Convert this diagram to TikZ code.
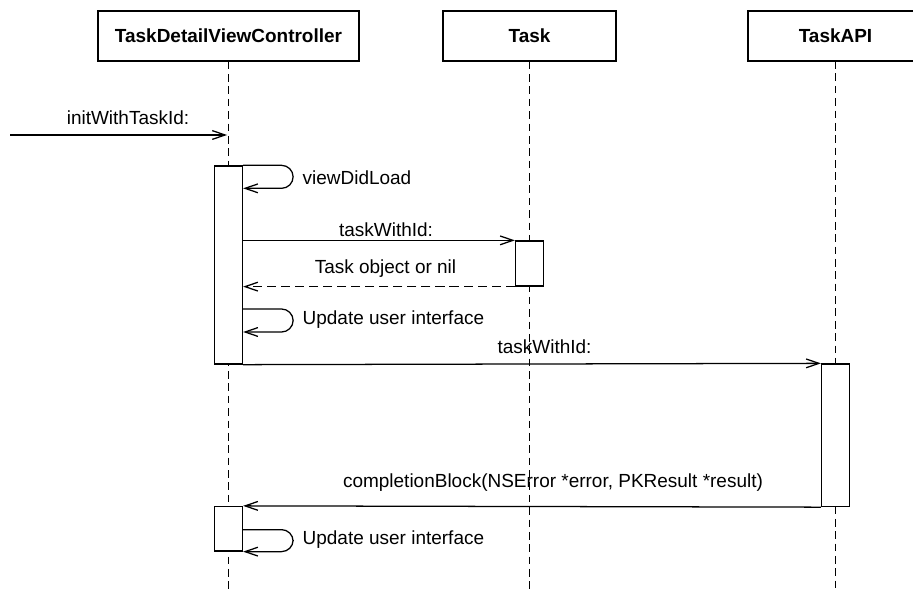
\documentclass[tikz,border=0pt]{standalone}
\usepackage{fontspec}
\setmainfont{Liberation Sans}
\usetikzlibrary{arrows.meta}

\begin{document}
\begin{tikzpicture}[x=0.025cm,y=-0.025cm,line width=0.9pt,
  >={Straight Barb[length=0.32cm,width=0.22cm]},
  every node/.style={inner sep=0pt,font=\fontsize{13.5}{16}\selectfont},
  head/.style={draw,minimum height=1.25cm,font=\fontsize{13.5}{16}\selectfont\bfseries},
  act/.style={draw,fill=white,minimum width=0.7cm},
  lifeline/.style={dash pattern=on 5.5pt off 3.3pt},
  msg/.style={->},
  reply/.style={->,dash pattern=on 6.5pt off 3.5pt},
  self/.style={->,rounded corners=0.29cm}]
  \useasboundingbox (0,0) rectangle (913,590);
  \coordinate (bottom) at (0,590);

  % objects and their lifelines
  \node[head,minimum width=6.525cm] (vc) at (228.5,36) {TaskDetailViewController};
  \node[head,minimum width=4.325cm] (task) at (529.5,36) {Task};
  \node[head,draw=none,outer sep=0pt,minimum width=4.375cm] (api) at (835.5,36) {TaskAPI};
  \draw (api.north east) -- (api.north west) -- (api.south west) -- (api.south east);
  \draw[lifeline] (vc.south) -- (vc.south |- bottom);
  \draw[lifeline] (task.south) -- (task.south |- bottom);
  \draw[lifeline] (api.south) -- (api.south |- bottom);

  % incoming call
  \coordinate (caller) at (10,135);
  \coordinate (vcin) at (227,135);
  \draw[msg] (caller) -- (vcin);
  \node (lInit) at (128,118) {initWithTaskId:};

  % activations (placed first so messages can refer to them)
  \path (228.5,265) node[act,minimum height=4.95cm] (act1) {};
  \path (529.5,263.5) node[act,minimum height=1.125cm] (act2) {};
  \path (835.5,435.25) node[act,minimum height=3.5625cm] (act3) {};
  \path (228.5,528.75) node[act,minimum height=1.1125cm] (act4) {};

  % messages
  \draw[msg] (act1.east |- act2.north west) -- (act2.north west);
  \draw[reply] (act2.south west) -- (act1.east |- act2.south west);
  \draw[msg] (act1.south east) -- (act3.north west);
  \draw[msg] (act3.south west) -- (act4.north east);

  % redraw bars on top of the arrow ends
  \path (228.5,265) node[act,minimum height=4.95cm] {};
  \path (529.5,263.5) node[act,minimum height=1.125cm] {};
  \path (835.5,435.25) node[act,minimum height=3.5625cm] {};
  \path (228.5,528.75) node[act,minimum height=1.1125cm] {};

  % self calls
  \coordinate (upd1) at (act1.east |- 0,309);
  \draw[self] (act1.north east) -- ++(50,0) -- ++(0,23) -- ++(-50,0);
  \draw[self] (upd1) -- ++(50,0) -- ++(0,23) -- ++(-50,0);
  \draw[self] (act4.south east) ++(0,-22) -- ++(50,0) -- ++(0,22) -- (act4.south east);

  % labels
  \node[anchor=west] (lLoad) at (302,178) {viewDidLoad};
  \node (lTask) at (386,230) {taskWithId:};
  \node (lObj) at (385.5,269) {Task object or nil};
  \node[anchor=west] (lUpd1) at (302,320) {Update user interface};
  \node (lApi) at (544.5,347) {taskWithId:};
  \node (lDone) at (553,483) {completionBlock(NSError *error, PKResult *result)};
  \node[anchor=west] (lUpd2) at (302,540) {Update user interface};
\end{tikzpicture}
\end{document}
